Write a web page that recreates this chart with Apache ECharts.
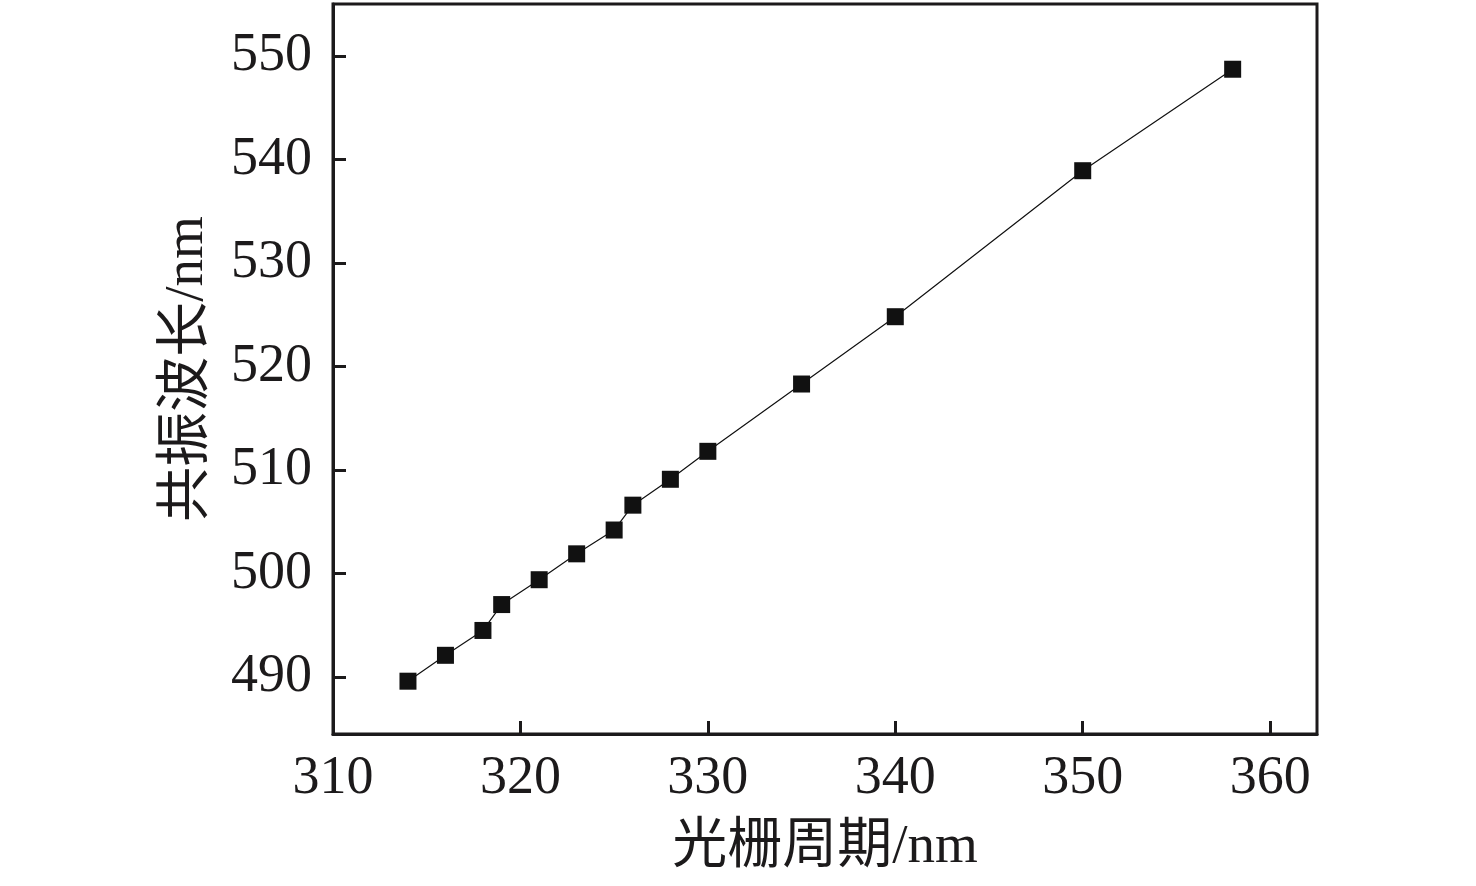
<!DOCTYPE html>
<html>
<head>
<meta charset="utf-8">
<script src="https://cdn.jsdelivr.net/npm/echarts@6/dist/echarts.min.js"></script>
<style>
html,body{margin:0;padding:0;background:#fff;}
#main{width:1476px;height:886px;}
</style>
</head>
<body>
<div id="main"></div>
<script>
const gratingPeriod = [314, 316, 318, 319, 321, 323, 325, 326, 328, 330, 335, 340, 350, 358];
const resonanceWavelength = [489.6, 492.1, 494.5, 497.0, 499.4, 501.9, 504.2, 506.6, 509.1, 511.8, 518.3, 524.8, 538.9, 548.7];
const xAxisName = '光栅周期/nm';
const yAxisName = '共振波长/nm';

const points = gratingPeriod.map((x, i) => [x, resonanceWavelength[i]]);
const ink = '#1c1a1b';
const fontFam = '"Liberation Serif", "Times New Roman", "Noto Sans CJK SC", serif';

const chart = echarts.init(document.getElementById('main'));
chart.setOption({
  backgroundColor: '#fff',
  animation: false,
  grid: {
    left: 333, right: 159, top: 4, bottom: 152,
    containLabel: false,
    outerBoundsMode: 'none',
    show: true, borderColor: ink, borderWidth: 3, backgroundColor: 'transparent'
  },
  xAxis: {
    type: 'value',
    min: 310, max: 362.5,
    minInterval: 10, maxInterval: 10,
    name: xAxisName,
    nameLocation: 'middle',
    nameGap: 86,
    nameTextStyle: { fontFamily: fontFam, fontSize: 55, color: ink },
    axisLine: { show: true, lineStyle: { color: ink, width: 3 } },
    axisTick: { show: true, inside: true, length: 13, lineStyle: { color: ink, width: 3 } },
    axisLabel: { margin: 18, fontFamily: fontFam, fontSize: 54, color: ink, showMaxLabel: false },
    splitLine: { show: false }
  },
  yAxis: {
    type: 'value',
    min: 484.5, max: 555,
    minInterval: 10, maxInterval: 10,
    name: yAxisName,
    nameLocation: 'middle',
    nameGap: 118,
    nameRotate: 90,
    nameTextStyle: { fontFamily: fontFam, fontSize: 55, color: ink },
    axisLine: { show: true, lineStyle: { color: ink, width: 3 } },
    axisTick: { show: true, inside: true, length: 13, lineStyle: { color: ink, width: 3 } },
    axisLabel: { margin: 21, fontFamily: fontFam, fontSize: 54, color: ink, showMaxLabel: false, showMinLabel: false },
    splitLine: { show: false }
  },
  series: [{
    type: 'line',
    data: points,
    symbol: 'rect',
    symbolSize: 17,
    itemStyle: { color: '#111' },
    lineStyle: { color: '#111', width: 1.2 },
    z: 3
  }]
});
</script>
</body>
</html>
